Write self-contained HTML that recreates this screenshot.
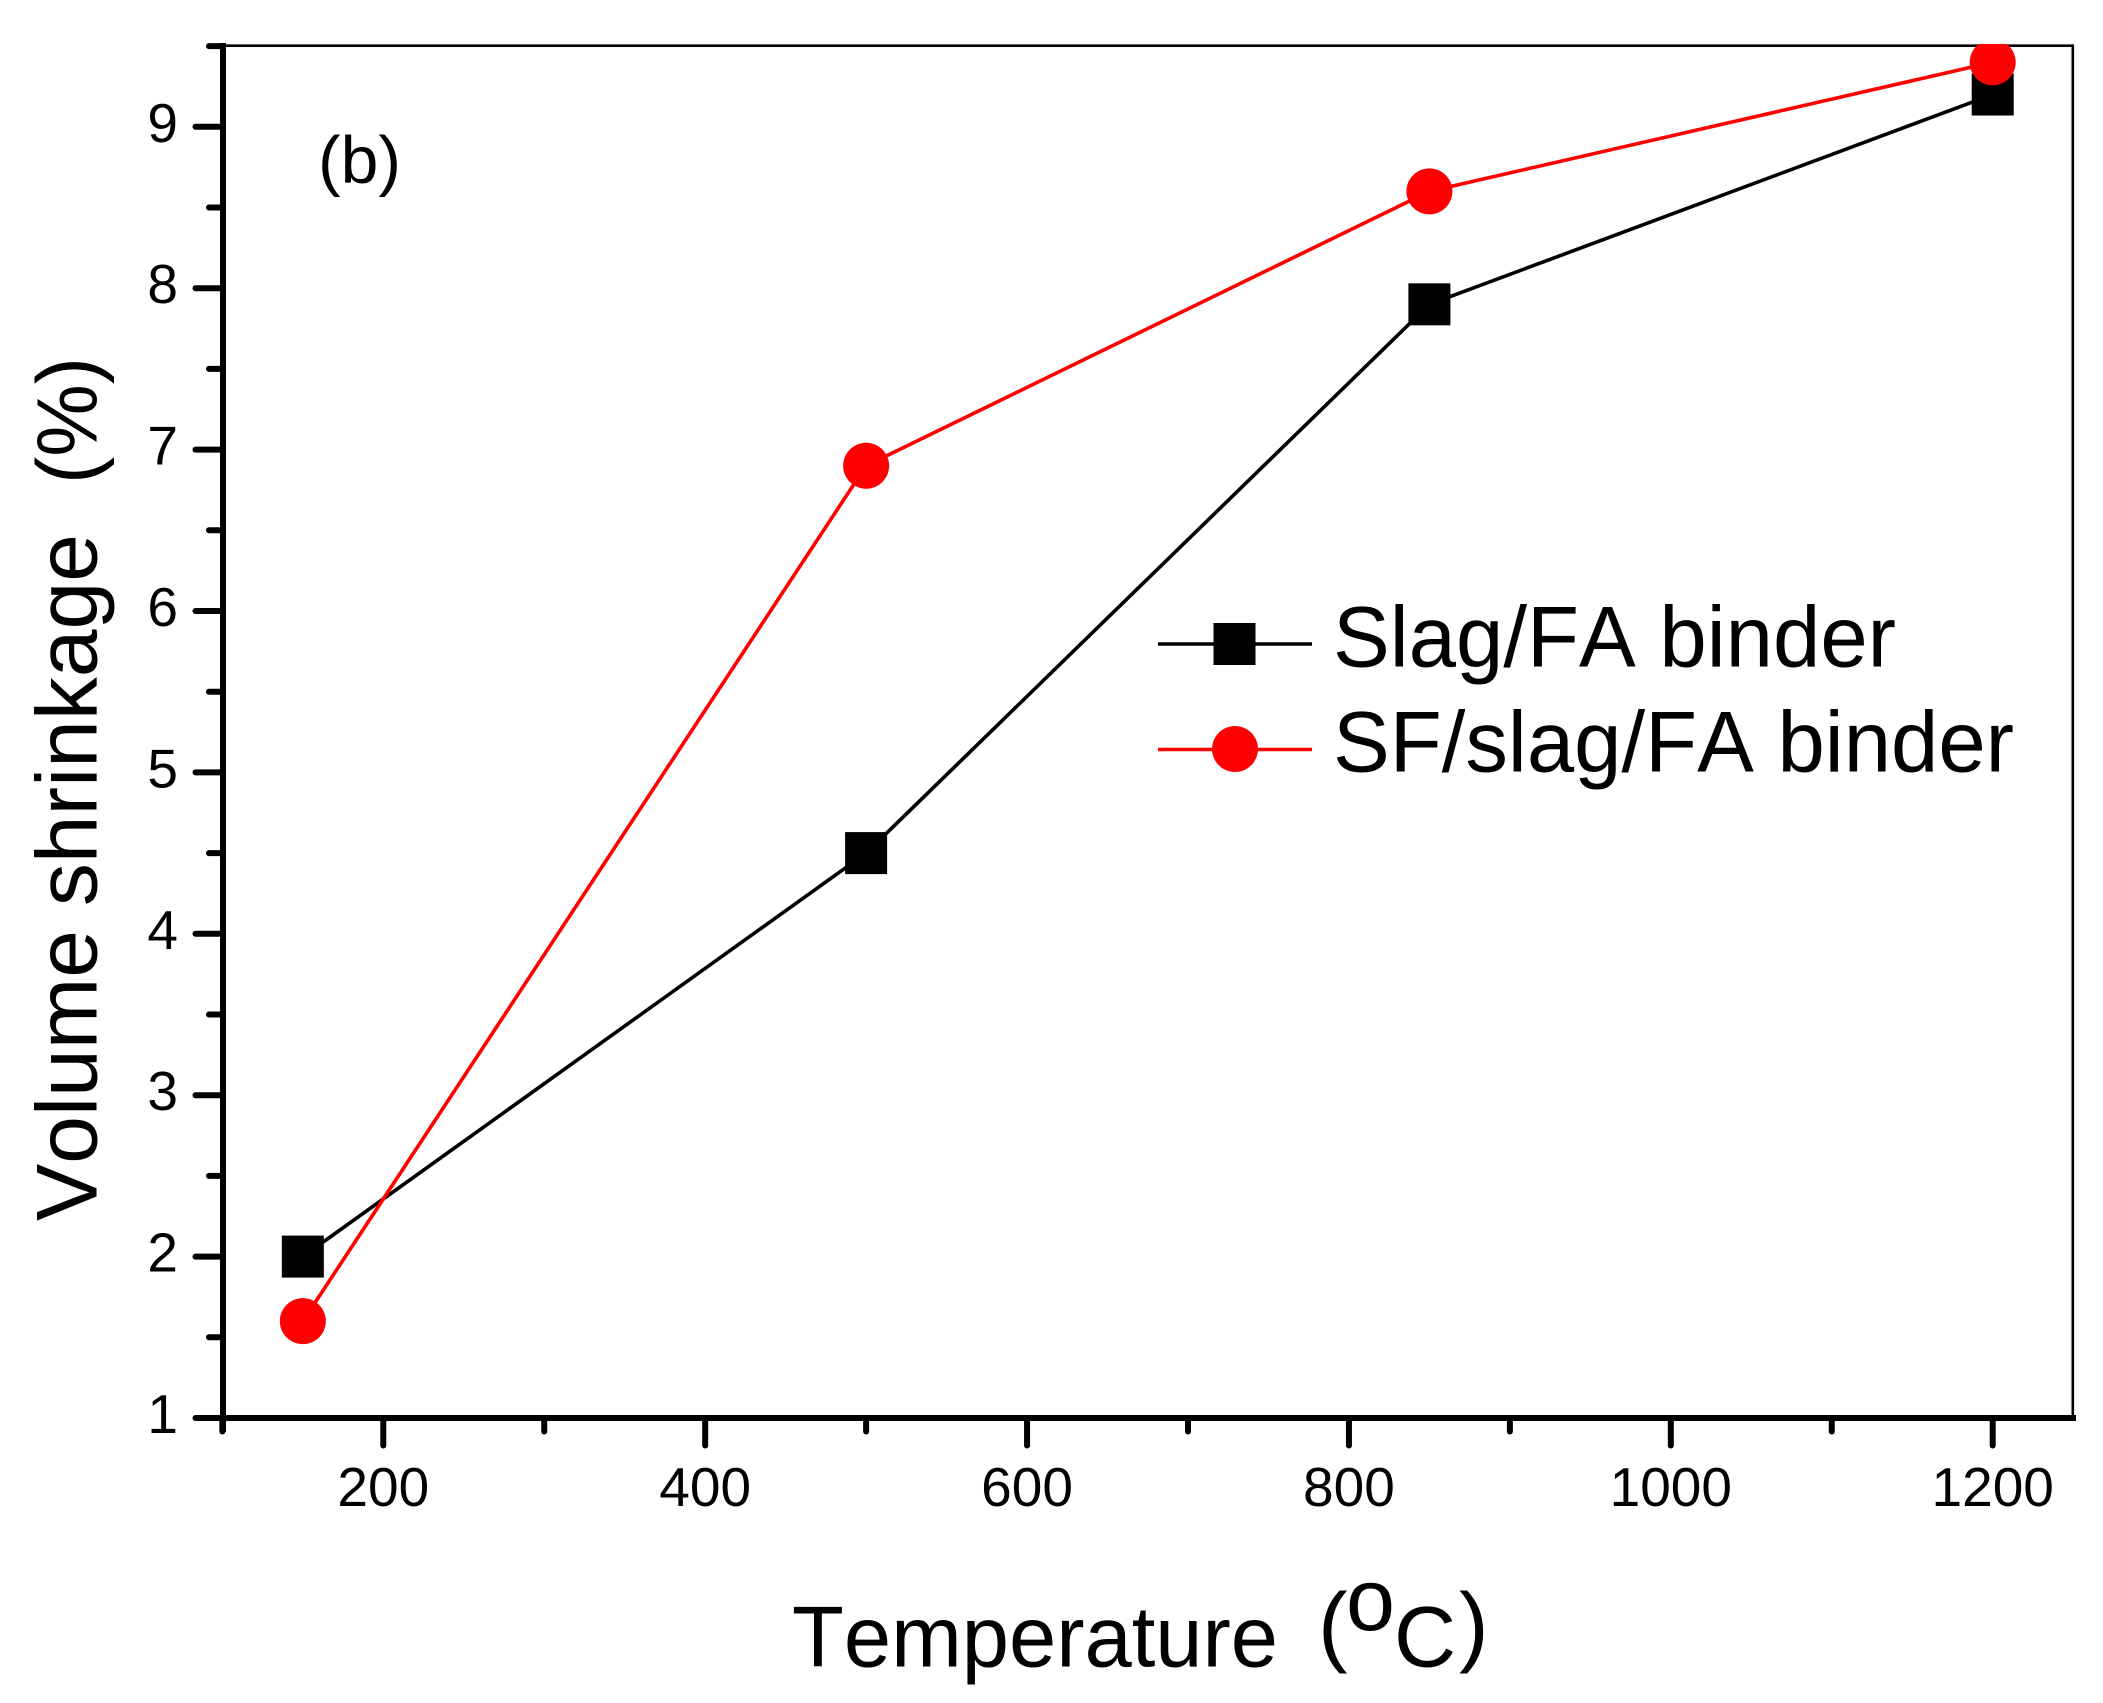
<!DOCTYPE html>
<html lang="en">
<head>
<meta charset="utf-8">
<title>Volume shrinkage vs temperature</title>
<style>
  html, body { margin: 0; padding: 0; background: #fff; }
  svg { display: block; }
  text { font-family: "Liberation Sans", Arial, sans-serif; fill: #000; font-kerning: none; }
</style>
</head>
<body>
<svg id="chart" xmlns="http://www.w3.org/2000/svg" width="2103" height="1703" viewBox="0 0 2103 1703">
  <defs>
    <clipPath id="plot-clip"><rect x="0" y="44" width="2074" height="1380"/></clipPath>
  </defs>
  <rect x="0" y="0" width="2103" height="1703" fill="#fff"/>
  <line x1="223" y1="45.7" x2="2074" y2="45.7" stroke="#000" stroke-width="2.6"/>
  <line x1="2072.8" y1="45" x2="2072.8" y2="1418" stroke="#000" stroke-width="2.6"/>
  <g id="series-layer" clip-path="url(#plot-clip)"></g>
  <g id="axis-layer"></g>
  <text x="318" y="183" font-size="67" textLength="83" lengthAdjust="spacingAndGlyphs">(b)</text>
  <g>
    <text x="792" y="1666.7" font-size="86" textLength="486" lengthAdjust="spacingAndGlyphs">Temperature</text>
    <text x="1318" y="1655" font-size="89">(</text>
    <text x="1346" y="1630" font-size="88">o</text>
    <text x="1394" y="1666.7" font-size="86">C</text>
    <text x="1459" y="1655" font-size="89">)</text>
  </g>
  <g>
    <text transform="translate(96.7 1221) rotate(-90)" font-size="86" textLength="687" lengthAdjust="spacingAndGlyphs">Volume shrinkage</text>
    <text transform="translate(96.7 484) rotate(-90)" font-size="85" textLength="127" lengthAdjust="spacingAndGlyphs">(%)</text>
  </g>
  <g id="legend">
    <g>
      <line x1="1158" y1="644" x2="1312" y2="644" stroke="#000" stroke-width="3.4"/>
      <rect x="1213.5" y="623" width="42" height="42" fill="#000"/>
      <text x="1333" y="666.7" font-size="86" textLength="563" lengthAdjust="spacingAndGlyphs">Slag/FA binder</text>
    </g>
    <g>
      <line x1="1158" y1="749.5" x2="1312" y2="749.5" stroke="#f00" stroke-width="3.4"/>
      <circle cx="1235" cy="749" r="23" fill="#f00"/>
      <text x="1333" y="771.7" font-size="86" textLength="681" lengthAdjust="spacingAndGlyphs">SF/slag/FA binder</text>
    </g>
  </g>
</svg>
<script>
const temperatures = [150, 500, 850, 1200];
const slagFaValues = [2, 4.5, 7.9, 9.2];
const sfSlagFaValues = [1.6, 6.9, 8.6, 9.4];
const xMajorTicks = [200, 400, 600, 800, 1000, 1200];
const xMinorTicks = [100, 300, 500, 700, 900, 1100];
const yMajorTicks = [1, 2, 3, 4, 5, 6, 7, 8, 9];
const yMinorTicks = [1.5, 2.5, 3.5, 4.5, 5.5, 6.5, 7.5, 8.5, 9.5];

const NS = 'http://www.w3.org/2000/svg';
const xScale = v => 383.3 + (v - 200) * 1.6094;
const yScale = v => 1418 - (v - 1) * 161.4;
const seriesLayer = document.getElementById('series-layer');
const axisLayer = document.getElementById('axis-layer');

function make(parent, tag, attrs, text) {
  const el = document.createElementNS(NS, tag);
  for (const k in attrs) el.setAttribute(k, attrs[k]);
  if (text !== undefined) el.textContent = text;
  parent.appendChild(el);
  return el;
}

function drawSeries(values, color, key) {
  const pts = temperatures.map((t, i) => xScale(t) + ',' + yScale(values[i])).join(' ');
  const line = make(seriesLayer, 'polyline', { points: pts, fill: 'none', stroke: color, 'stroke-width': 3.6 });
  
  
}
function drawSquares(values, key) {
  temperatures.forEach((t, i) => {
    const m = make(seriesLayer, 'rect', { x: xScale(t) - 21, y: yScale(values[i]) - 21, width: 42, height: 42, fill: '#000' });
    
    
  });
}
function drawCircles(values, key) {
  temperatures.forEach((t, i) => {
    const m = make(seriesLayer, 'circle', { cx: xScale(t), cy: yScale(values[i]), r: 23, fill: '#f00' });
    
    
  });
}
drawSeries(slagFaValues, '#000', 'slag-fa');
drawSeries(sfSlagFaValues, '#f00', 'sf-slag-fa');
drawSquares(slagFaValues, 'slag-fa');
drawCircles(sfSlagFaValues, 'sf-slag-fa');

function tick(x1, y1, x2, y2, name) {
  const t = make(axisLayer, 'line', { x1, y1, x2, y2, stroke: '#000', 'stroke-width': 6, 'stroke-linecap': 'round' });
  
  
}

const xAxisLine = make(axisLayer, 'line', { x1: 195, y1: yScale(1), x2: 2076, y2: yScale(1), stroke: '#000', 'stroke-width': 6 });


const yAxisLine = make(axisLayer, 'line', { x1: 223, y1: 43, x2: 223, y2: 1432, stroke: '#000', 'stroke-width': 6 });



xMajorTicks.forEach(v => {
  tick(xScale(v), 1420, xScale(v), 1445.5, 'x-tick-' + v);
  const label = make(axisLayer, 'text', { x: xScale(v), y: 1506, 'font-size': 55, 'text-anchor': 'middle' }, String(v));
  
  
});
xMinorTicks.forEach(v => tick(xScale(v), 1420, xScale(v), 1431.5, 'x-minor-tick-' + v));
yMajorTicks.forEach(v => {
  tick(195.5, yScale(v), 222, yScale(v), 'y-tick-' + v);
  const label = make(axisLayer, 'text', { x: 178, y: yScale(v) + 15, 'font-size': 55, 'text-anchor': 'end' }, String(v));
  
  
});
yMinorTicks.forEach(v => tick(209, yScale(v), 222, yScale(v), 'y-minor-tick-' + v));
</script>
</body>
</html>
